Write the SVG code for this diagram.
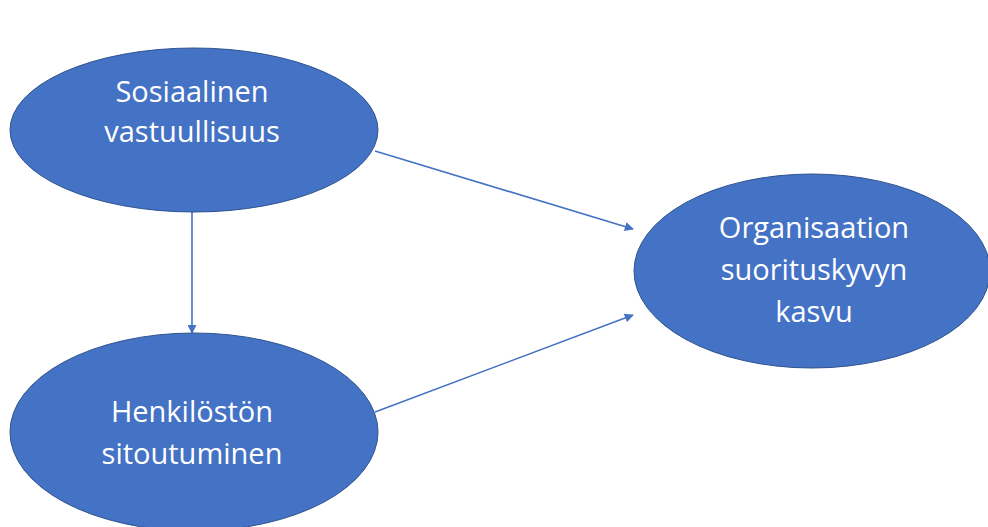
<svg xmlns="http://www.w3.org/2000/svg" width="988" height="527" viewBox="0 0 988 527">
  <defs>
    <marker id="arrow" viewBox="0 0 10 10" refX="9" refY="5" markerWidth="11" markerHeight="9" orient="auto" markerUnits="userSpaceOnUse">
      <path d="M0,0 L10,5 L0,10 z" fill="#4472C4"/>
    </marker>
    <style>
      .node { fill: #4472C4; stroke: #2F528F; stroke-width: 1; }
      .label { fill: #FFFFFF; font-family: "Open Sans", "Liberation Sans", sans-serif; font-size: 29px; text-anchor: middle; }
      .edge { stroke: #4472C4; stroke-width: 1.6; fill: none; marker-end: url(#arrow); }
    </style>
  </defs>
  <rect width="988" height="527" fill="#FFFFFF"/>

  <g id="connectors">
    <line class="edge" x1="375" y1="151" x2="633" y2="229"/>
    <line class="edge" x1="375" y1="412" x2="633" y2="315"/>
    <line class="edge" x1="192" y1="211" x2="192" y2="333"/>
  </g>

  <g id="sosiaalinen-vastuullisuus">
    <ellipse class="node" cx="194" cy="130" rx="184" ry="82"/>
    <text class="label" x="192" y="102">Sosiaalinen</text>
    <text class="label" x="192" y="142">vastuullisuus</text>
  </g>

  <g id="henkiloston-sitoutuminen">
    <ellipse class="node" cx="194" cy="432" rx="184" ry="99"/>
    <text class="label" x="192" y="422">Henkilöstön</text>
    <text class="label" x="192" y="464">sitoutuminen</text>
  </g>

  <g id="organisaation-suorituskyvyn-kasvu">
    <ellipse class="node" cx="812" cy="271" rx="178" ry="97"/>
    <text class="label" x="814" y="238">Organisaation</text>
    <text class="label" x="814" y="280">suorituskyvyn</text>
    <text class="label" x="814" y="322">kasvu</text>
  </g>
</svg>
